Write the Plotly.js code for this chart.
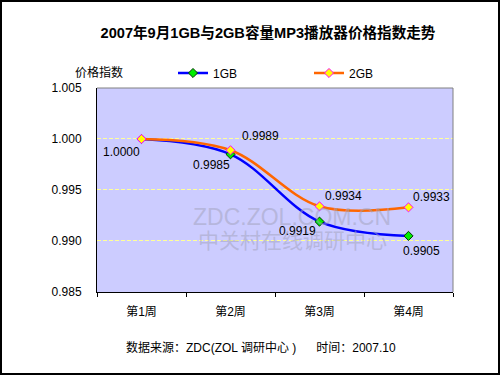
<!DOCTYPE html>
<html>
<head>
<meta charset="utf-8">
<script src="https://cdn.plot.ly/plotly-3.0.1.min.js"></script>
<style>
html,body{margin:0;padding:0;background:#fff;}
#chart{width:500px;height:375px;}
</style>
</head>
<body>
<div id="chart"></div>
<script>
// ---- data ----
var weeks = ["第1周", "第2周", "第3周", "第4周"];
var gb1 = [1.0000, 0.9985, 0.9919, 0.9905];
var gb2 = [1.0000, 0.9989, 0.9934, 0.9933];
var seriesNames = ["1GB", "2GB"];
var yTicks = [0.985, 0.990, 0.995, 1.000, 1.005];
var yGrid = [0.990, 0.995, 1.000];
var yRange = [0.985, 1.005];

// ---- layout helpers (pixel -> paper coords) ----
var L = 97, R = 453, T = 88, B = 292;
function px(x){ return (x - L) / (R - L); }
function py(y){ return (B - y) / (B - T); }

var FONT = "Arial, 'Liberation Sans', 'Noto Sans CJK SC', sans-serif";

var traces = [
  {
    x: weeks, y: gb1, name: seriesNames[0], type: "scatter", mode: "lines+markers", legend: "legend",
    line: {color: "#0000FF", width: 2.5, shape: "spline", smoothing: 1},
    marker: {symbol: "diamond", size: 7, color: "#00EE00", line: {color: "#003300", width: 1}}
  },
  {
    x: weeks, y: gb2, name: seriesNames[1], type: "scatter", mode: "lines+markers", legend: "legend2",
    line: {color: "#FF6600", width: 2.5, shape: "spline", smoothing: 1},
    marker: {symbol: "diamond", size: 7, color: "#FFFF00", line: {color: "#FF00FF", width: 1}}
  }
];

// label offsets (pixels) for each point
var off1 = [[-20, 13], [-19, 11], [-22, 9], [13, 15]];
var off2 = [null, [30, -14], [24, -10], [23, -10]];

var ann = [];
// watermark first (drawn beneath labels)
ann.push({x: px(292), y: py(232), xref: "paper", yref: "paper", text: "ZDC.ZOL.COM.CN", showarrow: false,
  font: {family: FONT, size: 23, color: "rgba(160,160,185,0.5)"}});
ann.push({x: px(292), y: py(254), xref: "paper", yref: "paper", text: "中关村在线调研中心", showarrow: false,
  font: {family: FONT, size: 21, color: "rgba(160,160,185,0.5)"}});

function addLabels(vals, offs){
  for (var i = 0; i < vals.length; i++){
    if (!offs[i]) continue;
    ann.push({
      x: weeks[i], y: vals[i], xref: "x", yref: "y",
      text: vals[i].toFixed(4), showarrow: true, arrowcolor: "rgba(0,0,0,0)",
      ax: offs[i][0], ay: offs[i][1], font: {family: FONT, size: 12, color: "#000"}
    });
  }
}
addLabels(gb1, off1);
addLabels(gb2, off2);

// axis title, footer
ann.push({x: px(73), y: py(63), xref: "paper", yref: "paper", text: "价格指数", showarrow: false,
  font: {family: FONT, size: 12, color: "#000"}});
ann.push({x: px(261), y: py(357), xref: "paper", yref: "paper",
  text: "数据来源：ZDC(ZOL 调研中心 )      时间：2007.10", showarrow: false,
  font: {family: FONT, size: 12, color: "#000"}});

// dashed pale-yellow gridlines, aligned to pixel centres
var shapes = [];
var H = B - T;
yGrid.forEach(function(v){
  var pix = Math.round(T + (1 - (v - yRange[0]) / (yRange[1] - yRange[0])) * H) - 0.5;
  var p = (B - pix) / H;
  shapes.push({type: "line", xref: "paper", yref: "paper", x0: 0, x1: 1, y0: p, y1: p,
    line: {color: "#FFFF99", width: 1, dash: "4px,2px"}, layer: "below"});
});
shapes.push(
  {type: "line", xref: "paper", yref: "paper", x0: 0, x1: 1, y0: 1, y1: 1, line: {color: "#808080", width: 1}, layer: "above"},
  {type: "line", xref: "paper", yref: "paper", x0: 1, x1: 1, y0: 0, y1: 1, line: {color: "#808080", width: 1}, layer: "above"},
  {type: "rect", xref: "paper", yref: "paper", x0: px(1), x1: px(499), y0: py(1), y1: py(374),
    line: {color: "#000", width: 2}, fillcolor: "rgba(0,0,0,0)", layer: "above"}
);

var legendCommon = {orientation: "h", xanchor: "left", yanchor: "middle", xref: "paper", yref: "paper",
  itemwidth: 30, bgcolor: "rgba(0,0,0,0)", borderwidth: 0, font: {family: FONT, size: 12, color: "#000"}};

var layout = {
  width: 500, height: 375,
  margin: {l: L, r: 500 - R, t: T, b: 375 - B, pad: 0},
  paper_bgcolor: "#FFFFFF",
  plot_bgcolor: "#CCCCFF",
  font: {family: FONT, size: 12, color: "#000"},
  title: {text: "<b>2007年9月1GB与2GB容量MP3播放器价格指数走势</b>", x: 268/500, xanchor: "center",
    y: 1 - 33/375, yanchor: "middle", xref: "container", yref: "container",
    font: {family: FONT, size: 14.6, color: "#000"}},
  showlegend: true,
  legend: Object.assign({}, legendCommon, {x: px(173), y: py(73)}),
  legend2: Object.assign({}, legendCommon, {x: px(309), y: py(73)}),
  xaxis: {
    type: "category", categoryarray: weeks, range: [-0.5, 3.5], tickson: "boundaries",
    ticks: "outside", ticklen: 4, tickcolor: "#000", showline: true, linecolor: "#000", linewidth: 1,
    showgrid: false, zeroline: false, ticklabelstandoff: 9, fixedrange: true,
    tickfont: {family: FONT, size: 12, color: "#000"}
  },
  yaxis: {
    range: yRange, tickvals: yTicks, tickformat: ".3f",
    showline: true, linecolor: "#000", linewidth: 1, ticks: "",
    showgrid: false, zeroline: false,
    ticklabelstandoff: 12, fixedrange: true,
    tickfont: {family: FONT, size: 12, color: "#000"}
  },
  shapes: shapes,
  annotations: ann
};

Plotly.newPlot("chart", traces, layout, {displayModeBar: false, staticPlot: true});
</script>
</body>
</html>
